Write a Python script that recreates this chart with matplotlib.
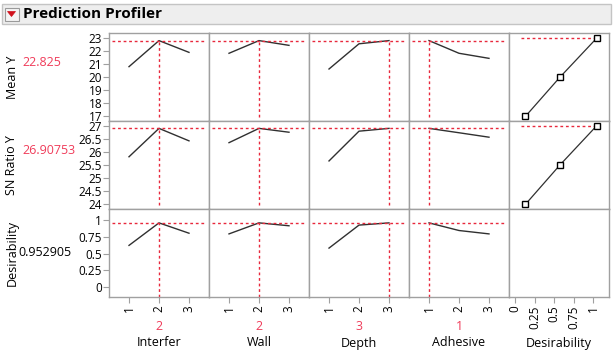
import matplotlib
matplotlib.use("Agg")
import matplotlib.pyplot as plt
from matplotlib.patches import Rectangle, Polygon

plt.rcParams['font.family'] = ['Open Sans', 'DejaVu Sans']

# ---------------- data ----------------
factors = ["Interfer", "Wall", "Depth", "Adhesive"]
levels = [1, 2, 3]
current_levels = [2, 2, 3, 1]

responses = ["Mean Y", "SN Ratio Y", "Desirability"]
current_values = ["22.825", "26.90753", "0.952905"]
current_num = [22.825, 26.90753, 0.952905]

mean_y = [
    [20.82, 22.825, 21.92],   # Interfer
    [21.85, 22.825, 22.46],   # Wall
    [20.64, 22.58, 22.825],   # Depth
    [22.825, 21.85, 21.46],   # Adhesive
]
sn_ratio = [
    [25.82, 26.90753, 26.43],
    [26.36, 26.90753, 26.76],
    [25.66, 26.80, 26.90753],
    [26.90753, 26.74, 26.57],
]
desirability = [
    [0.62, 0.952905, 0.80],
    [0.79, 0.952905, 0.91],
    [0.58, 0.92, 0.952905],
    [0.952905, 0.84, 0.79],
]
series = [mean_y, sn_ratio, desirability]

# desirability function points (desirability on x, response on y)
desir_x_mean = [0.13, 0.57, 1.04]
desir_y_mean = [17, 20, 23]
desir_x_sn = [0.13, 0.57, 1.04]
desir_y_sn = [24, 25.5, 27]

y_ticks = [
    [17, 18, 19, 20, 21, 22, 23],
    [24, 24.5, 25, 25.5, 26, 26.5, 27],
    [0, 0.25, 0.5, 0.75, 1],
]
y_ticklabels = [
    ["17", "18", "19", "20", "21", "22", "23"],
    ["24", "24.5", "25", "25.5", "26", "26.5", "27"],
    ["0", "0.25", "0.5", "0.75", "1"],
]
y_lims = [(16.64, 23.41), (23.82, 27.19), (-0.143, 1.158)]
d_ticks = [0, 0.25, 0.5, 0.75, 1]
d_ticklabels = ["0", "0.25", "0.5", "0.75", "1"]

# ---------------- layout ----------------
W, H = 613, 353
fig = plt.figure(figsize=(W / 100, H / 100), dpi=100)
fig.patch.set_facecolor("white")

def rect(x0, y0, x1, y1):
    return [x0 / W, 1 - y1 / H, (x1 - x0) / W, (y1 - y0) / H]

RED = "#e8283c"
RED_TXT = "#f03c5a"
GRID = "#a0a0a0"
LINE = "#303030"
TICK_FS = 8.5

# header
hdr = fig.add_axes([0, 0, 1, 1], zorder=-1)
hdr.set_xlim(0, W)
hdr.set_ylim(H, 0)
hdr.axis("off")
hdr.add_patch(Rectangle((1.5, 3.5), 609, 20.5, facecolor="#eeeeee", edgecolor="#c4c4c4", lw=1))
hdr.add_patch(Rectangle((4.5, 7.5), 14, 13, facecolor="#f4f4f4", edgecolor="#9a9a9a", lw=0.8))
hdr.add_patch(Polygon([(7.5, 11.5), (15.5, 11.5), (11.5, 16.5)], closed=True,
                      facecolor="#d0101c", edgecolor="#d0101c", lw=0.5))
hdr.text(23, 14, "Prediction Profiler", fontsize=11, fontweight="bold",
         va="center", ha="left", color="black")

col_x = [109, 209, 309, 409, 509, 609]
row_y = [33, 121, 209, 297]

for r in range(3):
    for c in range(5):
        ax = fig.add_axes(rect(col_x[c], row_y[r], col_x[c + 1], row_y[r + 1]))
        for s in ax.spines.values():
            s.set_color(GRID)
            s.set_linewidth(1)
        ax.set_ylim(*y_lims[r])
        if c < 4:
            ax.set_xlim(0.333, 3.667)
            vals = series[r][c]
            ax.plot(levels, vals, color=LINE, lw=1)
            cur = current_levels[c]
            ax.axhline(current_num[r], xmin=0.03, xmax=0.95, color=RED, lw=1,
                       ls=(0, (2, 2)))
            ax.plot([cur, cur], [y_lims[r][0] + 0.05 * (y_lims[r][1] - y_lims[r][0]) * (0 if r == 2 else 1),
                                 current_num[r]], color=RED, lw=1, ls=(0, (2, 2)))
        else:
            ax.set_xlim(-0.081, 1.2)
            if r == 0:
                ax.plot(desir_x_mean, desir_y_mean, color=LINE, lw=0.9, marker="s",
                        ms=4.5, mfc="white", mec="black", mew=1)
                ax.plot([0.07, 1.04], [23, 23], color=RED, lw=1, ls=(0, (2, 2)), zorder=0)
            elif r == 1:
                ax.plot(desir_x_sn, desir_y_sn, color=LINE, lw=0.9, marker="s",
                        ms=4.5, mfc="white", mec="black", mew=1)
                ax.plot([0.07, 1.04], [27, 27], color=RED, lw=1, ls=(0, (2, 2)), zorder=0)
        # ticks
        if c == 0:
            ax.set_yticks(y_ticks[r])
            ax.set_yticklabels(y_ticklabels[r], fontsize=TICK_FS)
            ax.tick_params(axis="y", length=4, color=GRID, pad=1)
        else:
            ax.set_yticks([])
        if r == 2:
            if c < 4:
                ax.set_xticks(levels)
                ax.set_xticklabels([str(v) for v in levels], rotation=90, fontsize=TICK_FS)
            else:
                ax.set_xticks(d_ticks)
                ax.set_xticklabels(d_ticklabels, rotation=90, fontsize=TICK_FS)
            ax.tick_params(axis="x", length=4, color=GRID, pad=2)
        else:
            ax.set_xticks([])

# row labels
row_label_y = [77, 165, 253]
row_value_y = [62, 150, 253]
for r in range(3):
    hdr.text(12, row_label_y[r], responses[r], rotation=90, fontsize=9,
             ha="center", va="center", color="black")
    hdr.text(22 if r < 2 else 18, row_value_y[r], current_values[r], fontsize=9,
             ha="left", va="center", color=RED_TXT if r < 2 else "black")

# column labels
for c in range(5):
    cx = (col_x[c] + col_x[c + 1]) / 2
    if c < 4:
        hdr.text(cx, 326, str(current_levels[c]), fontsize=9, ha="center",
                 va="center", color=RED_TXT)
        hdr.text(cx, 343, factors[c], fontsize=9, ha="center", va="center", color="black")
    else:
        hdr.text(cx, 343, "Desirability", fontsize=9, ha="center", va="center", color="black")

fig.savefig("out.png", dpi=100)
